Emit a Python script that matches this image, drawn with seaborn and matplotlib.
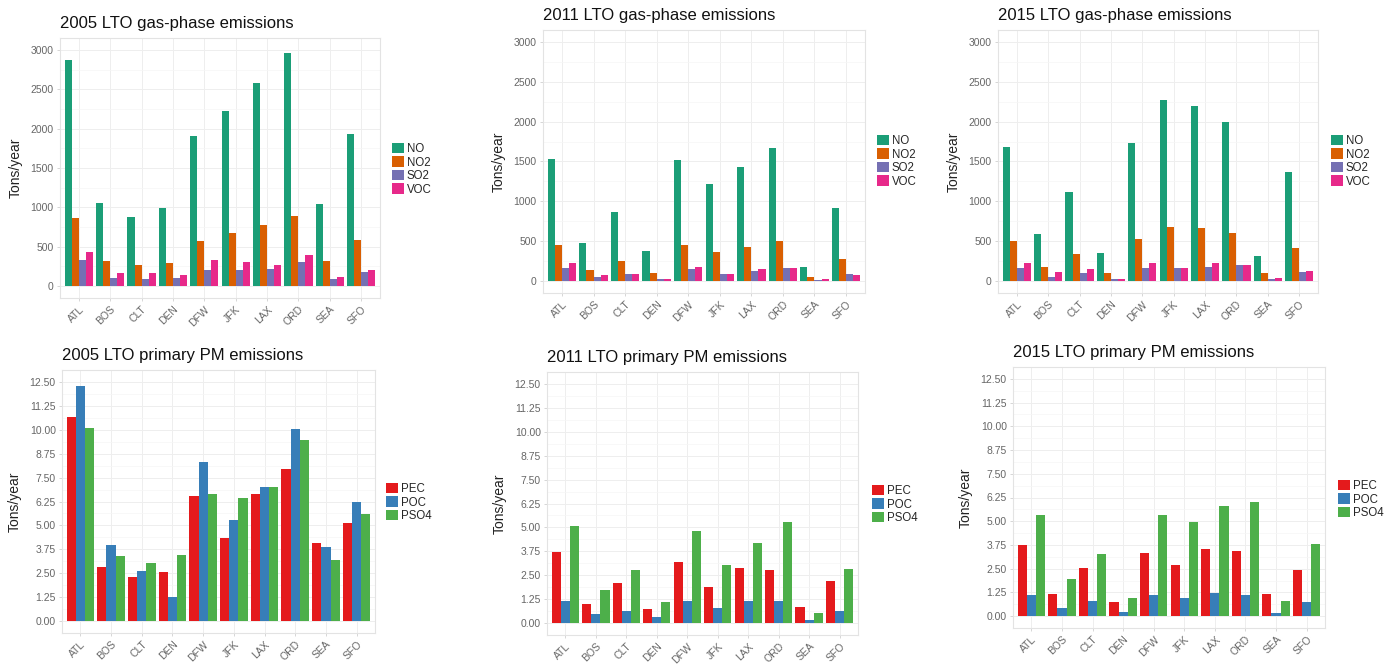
import numpy as np
import pandas as pd
import matplotlib
matplotlib.use("Agg")
import matplotlib.pyplot as plt
from matplotlib.patches import Patch
from matplotlib.ticker import FixedLocator
import seaborn as sns

airports = ["ATL", "BOS", "CLT", "DEN", "DFW", "JFK", "LAX", "ORD", "SEA", "SFO"]

gas_species = ["NO", "NO2", "SO2", "VOC"]
pm_species = ["PEC", "POC", "PSO4"]

# Gas-phase LTO emissions (tons/year)
gas_2005_no = [2874, 1054, 879, 996, 1904, 2226, 2581, 2958, 1046, 1933]
gas_2005_no2 = [870, 322, 272, 293, 573, 669, 774, 891, 314, 586]
gas_2005_so2 = [330, 105, 92, 105, 209, 209, 222, 301, 96, 180]
gas_2005_voc = [439, 167, 167, 138, 335, 305, 272, 397, 117, 201]

gas_2011_no = [1529, 472, 861, 376, 1517, 1216, 1433, 1675, 171, 919]
gas_2011_no2 = [451, 138, 255, 104, 451, 368, 430, 501, 46, 276]
gas_2011_so2 = [159, 46, 88, 25, 146, 88, 125, 167, 13, 88]
gas_2011_voc = [221, 75, 88, 21, 180, 88, 146, 159, 25, 75]

gas_2015_no = [1684, 585, 1120, 347, 1738, 2269, 2202, 2001, 318, 1370]
gas_2015_no2 = [506, 180, 334, 96, 522, 681, 668, 597, 96, 409]
gas_2015_so2 = [167, 54, 96, 21, 167, 159, 180, 201, 21, 117]
gas_2015_voc = [230, 109, 146, 21, 230, 159, 230, 201, 33, 130]

# Primary PM LTO emissions (tons/year)
pm_2005_pec = [10.67, 2.83, 2.28, 2.57, 6.54, 4.36, 6.62, 7.96, 4.07, 5.11]
pm_2005_poc = [12.27, 3.98, 2.63, 1.27, 8.31, 5.28, 7.02, 10.05, 3.89, 6.22]
pm_2005_pso4 = [10.10, 3.41, 3.01, 3.46, 6.62, 6.45, 7.02, 9.46, 3.20, 5.58]

pm_2011_pec = [3.70, 0.99, 2.09, 0.73, 3.17, 1.87, 2.88, 2.75, 0.82, 2.18]
pm_2011_poc = [1.13, 0.47, 0.65, 0.31, 1.13, 0.78, 1.13, 1.17, 0.17, 0.61]
pm_2011_pso4 = [5.06, 1.71, 2.75, 1.10, 4.83, 3.02, 4.18, 5.26, 0.52, 2.82]

pm_2015_pec = [3.73, 1.17, 2.51, 0.77, 3.31, 2.70, 3.56, 3.43, 1.17, 2.44]
pm_2015_poc = [1.13, 0.44, 0.82, 0.21, 1.12, 0.94, 1.20, 1.13, 0.17, 0.77]
pm_2015_pso4 = [5.32, 1.95, 3.29, 0.96, 5.35, 4.95, 5.79, 6.00, 0.82, 3.78]

gas_colors = ["#1B9E77", "#D95F02", "#7570B3", "#E7298A"]
pm_colors = ["#E41A1C", "#377EB8", "#4DAF4A"]

gas_ticks = [0, 500, 1000, 1500, 2000, 2500, 3000]
gas_tick_labels = ["0", "500", "1000", "1500", "2000", "2500", "3000"]
pm_ticks = [0, 1.25, 2.5, 3.75, 5.0, 6.25, 7.5, 8.75, 10.0, 11.25, 12.5]
pm_tick_labels = ["0.00", "1.25", "2.50", "3.75", "5.00", "6.25", "7.50",
                  "8.75", "10.00", "11.25", "12.50"]


def long_frame(series, names):
    rows = []
    for name, vals in zip(names, series):
        for ap, v in zip(airports, vals):
            rows.append({"airport": ap, "species": name, "value": v})
    return pd.DataFrame(rows)


sns.set_theme(style="white")
plt.rcParams["font.family"] = ["Liberation Sans", "DejaVu Sans"]

fig = plt.figure(figsize=(13.94, 6.65), dpi=100)
W, H = 1394, 665


def px_axes(x0, y0, x1, y1):
    return fig.add_axes([x0 / W, 1 - y1 / H, (x1 - x0) / W, (y1 - y0) / H])


panels = [
    dict(rect=(60, 38, 380, 298), title="2005 LTO gas-phase emissions",
         data=[gas_2005_no, gas_2005_no2, gas_2005_so2, gas_2005_voc],
         names=gas_species, colors=gas_colors, kind="gas", leg=(392, 143)),
    dict(rect=(543, 30, 865, 293), title="2011 LTO gas-phase emissions",
         data=[gas_2011_no, gas_2011_no2, gas_2011_so2, gas_2011_voc],
         names=gas_species, colors=gas_colors, kind="gas", leg=(877, 135)),
    dict(rect=(998, 30, 1318, 293), title="2015 LTO gas-phase emissions",
         data=[gas_2015_no, gas_2015_no2, gas_2015_so2, gas_2015_voc],
         names=gas_species, colors=gas_colors, kind="gas", leg=(1331, 135)),
    dict(rect=(62, 370, 375, 633), title="2005 LTO primary PM emissions",
         data=[pm_2005_pec, pm_2005_poc, pm_2005_pso4],
         names=pm_species, colors=pm_colors, kind="pm", leg=(386, 483)),
    dict(rect=(547, 372, 858, 635), title="2011 LTO primary PM emissions",
         data=[pm_2011_pec, pm_2011_poc, pm_2011_pso4],
         names=pm_species, colors=pm_colors, kind="pm", leg=(872, 485)),
    dict(rect=(1013, 367, 1325, 628), title="2015 LTO primary PM emissions",
         data=[pm_2015_pec, pm_2015_poc, pm_2015_pso4],
         names=pm_species, colors=pm_colors, kind="pm", leg=(1338, 480)),
]

tick_color = "#666666"
for p in panels:
    ax = px_axes(*p["rect"])
    df = long_frame(p["data"], p["names"])
    sns.barplot(data=df, x="airport", y="value", hue="species",
                order=airports, hue_order=p["names"], palette=p["colors"],
                width=0.9, saturation=1, gap=0, errorbar=None,
                linewidth=0, legend=False, ax=ax)
    ax.set_xlim(-0.6, 9.6)
    if p["kind"] == "gas":
        ax.set_ylim(-150, 3150)
        ax.yaxis.set_major_locator(FixedLocator(gas_ticks))
        ax.set_yticklabels(gas_tick_labels)
        ax.yaxis.set_minor_locator(FixedLocator([250, 750, 1250, 1750, 2250, 2750]))
    else:
        ax.set_ylim(-0.625, 13.125)
        ax.yaxis.set_major_locator(FixedLocator(pm_ticks))
        ax.set_yticklabels(pm_tick_labels)
        ax.yaxis.set_minor_locator(FixedLocator([t + 0.625 for t in pm_ticks[:-1]]))
    ax.set_xticks(range(len(airports)))
    ax.set_xticklabels(airports, rotation=45, ha="right",
                       rotation_mode="anchor")
    ax.set_axisbelow(True)
    ax.grid(True, which="major", color="#EEEEEE", linewidth=0.7)
    ax.grid(True, which="minor", axis="y", color="#F6F6F6", linewidth=0.5)
    for s in ax.spines.values():
        s.set_color("#E3E3E3")
        s.set_linewidth(0.8)
    ax.tick_params(axis="both", which="major", length=2.5, width=0.6,
                   color="#D0D0D0", labelsize=7.5, labelcolor=tick_color,
                   pad=2, left=True, bottom=True)
    ax.tick_params(axis="both", which="minor", length=0)
    ax.set_xlabel("")
    ax.set_ylabel("Tons/year", fontsize=10, color="#222222", labelpad=6)
    ax.set_title(p["title"], loc="left", fontsize=12, color="#111111", pad=7)

    handles = [Patch(facecolor=c, edgecolor="none") for c in p["colors"]]
    lx, ly = p["leg"]
    fig.legend(handles, p["names"], loc="upper left",
               bbox_to_anchor=(lx / W, 1 - ly / H), frameon=False,
               fontsize=8.3, handlelength=1.0, handleheight=1.0,
               handletextpad=0.3, labelspacing=0.12, borderpad=0,
               borderaxespad=0)

fig.savefig("out.png", dpi=100, facecolor="white")
